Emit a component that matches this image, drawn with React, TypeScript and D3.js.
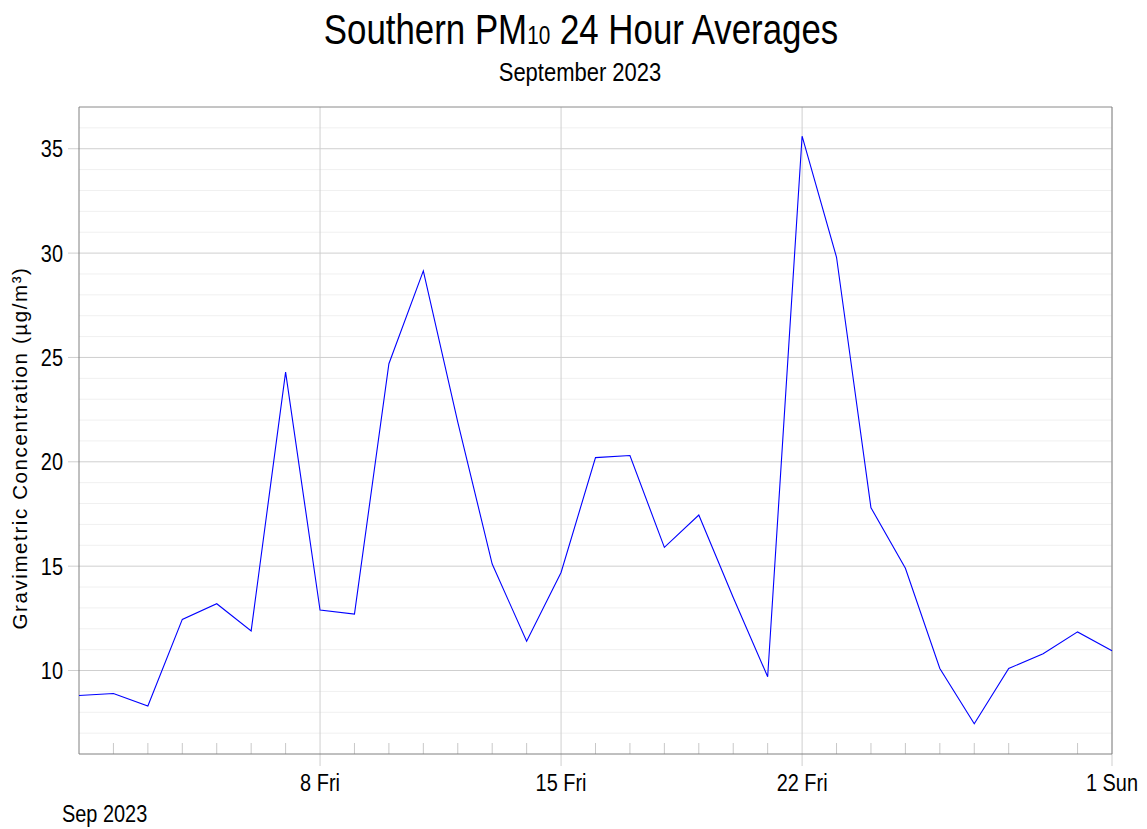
import * as React from 'react';
import * as d3 from "d3";

// daily 24h averages, Sep 1 .. Oct 1 2023
const dayLabels: string[] = [
    "2023-09-01", "2023-09-02", "2023-09-03", "2023-09-04", "2023-09-05", "2023-09-06", "2023-09-07",
    "2023-09-08", "2023-09-09", "2023-09-10", "2023-09-11", "2023-09-12", "2023-09-13", "2023-09-14",
    "2023-09-15", "2023-09-16", "2023-09-17", "2023-09-18", "2023-09-19", "2023-09-20", "2023-09-21",
    "2023-09-22", "2023-09-23", "2023-09-24", "2023-09-25", "2023-09-26", "2023-09-27", "2023-09-28",
    "2023-09-29", "2023-09-30", "2023-10-01"
];
const pm10Values: number[] = [
    8.8, 8.9, 8.3, 12.45, 13.2, 11.9, 24.3,
    12.9, 12.7, 24.7, 29.15, 21.9, 15.1, 11.4,
    14.7, 20.2, 20.3, 15.9, 17.45, 13.5, 9.7,
    35.6, 29.8, 17.8, 14.9, 10.1, 7.45, 10.1,
    10.8, 11.85, 10.95
];
const yMajorTicks: number[] = [10, 15, 20, 25, 30, 35];
const xMajorTicks: string[] = ["2023-09-08", "2023-09-15", "2023-09-22", "2023-10-01"];
const xMajorLabels: string[] = ["8 Fri", "15 Fri", "22 Fri", "1 Sun"];

const parse = d3.timeParse("%Y-%m-%d");

interface Point {
    x: Date;
    y: number;
}

const FONT = "'Liberation Sans', Arial, sans-serif";
const SQUEEZE = 0.83;

// arial-narrow look: regular sans squeezed horizontally
function NarrowText(p: { x: number; y: number; size: number; anchor?: string; children: React.ReactNode }) {
    return (
        <g transform={`translate(${p.x},${p.y}) scale(${SQUEEZE},1)`}>
            <text x={0} y={0} textAnchor={p.anchor || "start"} fontFamily={FONT} fontSize={p.size} fill="#000">
                {p.children}
            </text>
        </g>
    );
}

export default function App() {
    const width = 1147;
    const height = 829;
    const m = { left: 79, right: 1112, top: 107, bottom: 754 };

    const scaleX = d3.scaleTime()
        .domain([parse("2023-09-01")!, parse("2023-10-01")!])
        .range([m.left, m.right]);
    const scaleY = d3.scaleLinear()
        .domain([6, 37])
        .range([m.bottom, m.top]);

    const points: Point[] = dayLabels.map((d, i) => ({ x: parse(d)!, y: pm10Values[i] }));

    const line = d3.line<Point>()
        .curve(d3.curveLinear)
        .x(p => scaleX(p.x))
        .y(p => scaleY(p.y));

    const minorY = d3.range(7, 37).filter(v => v % 5 !== 0);
    const days = d3.timeDay.range(parse("2023-09-02")!, parse("2023-10-01")!);
    const majorDates = xMajorTicks.map(d => parse(d)!);

    return (
        <svg width={width} height={height} style={{ position: "absolute", left: 0, top: 0 }}>
            <rect x={0} y={0} width={width} height={height} fill="#fff" />
            {/* title */}
            <NarrowText x={581} y={44} size={42} anchor="middle">
                Southern PM<tspan fontSize={25}>10</tspan> 24 Hour Averages
            </NarrowText>
            <NarrowText x={580} y={81} size={26.5} anchor="middle">September 2023</NarrowText>

            {/* minor grid */}
            {minorY.map(v => (
                <line key={"my" + v} x1={m.left} x2={m.right} y1={scaleY(v)} y2={scaleY(v)}
                    stroke="#f0f0f0" strokeWidth={1} />
            ))}
            {/* major grid */}
            {yMajorTicks.map(v => (
                <g key={"y" + v}>
                    <line x1={m.left - 11} x2={m.right} y1={scaleY(v)} y2={scaleY(v)}
                        stroke="#cfcfcf" strokeWidth={1} />
                    <NarrowText x={63} y={scaleY(v) + 8.5} size={24} anchor="end">{v}</NarrowText>
                </g>
            ))}
            {majorDates.map((d, i) => (
                <g key={"x" + i}>
                    <line x1={scaleX(d)} x2={scaleX(d)} y1={m.top} y2={m.bottom + 12}
                        stroke="#cfcfcf" strokeWidth={1} />
                    <NarrowText x={scaleX(d)} y={791} size={24} anchor="middle">{xMajorLabels[i]}</NarrowText>
                </g>
            ))}
            {days.filter(d => d.getDate() % 7 !== 1).map((d, i) => (
                <line key={"d" + i} x1={scaleX(d)} x2={scaleX(d)} y1={m.bottom - 11} y2={m.bottom}
                    stroke="#c8c8c8" strokeWidth={1} />
            ))}
            <NarrowText x={62} y={822} size={24}>Sep 2023</NarrowText>

            {/* frame */}
            <line x1={m.left} x2={m.right} y1={m.top} y2={m.top} stroke="#8a8a8a" />
            <line x1={m.right} x2={m.right} y1={m.top} y2={m.bottom} stroke="#8a8a8a" />
            <line x1={m.left} x2={m.left} y1={m.top} y2={m.bottom} stroke="#808080" />
            <line x1={m.left} x2={m.right} y1={m.bottom} y2={m.bottom} stroke="#808080" />

            <path fill="none" d={line(points) || undefined} stroke="#0000ff" strokeWidth={1.1} />

            <text transform={`translate(27,${448}) rotate(-90)`} textAnchor="middle"
                fontFamily={FONT} fontSize={20.5} letterSpacing={1.6} fill="#000">
                Gravimetric Concentration (µg/m³)
            </text>
        </svg>
    );
}
